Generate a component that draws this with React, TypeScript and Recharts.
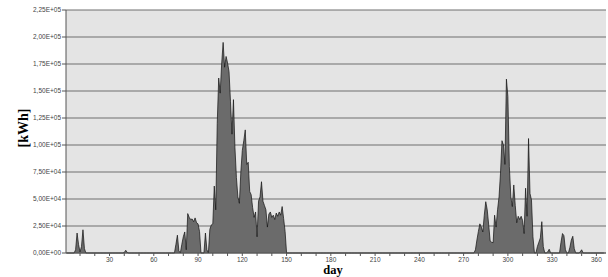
import React from 'react';
import { AreaChart, Area, XAxis, YAxis, CartesianGrid } from 'recharts';

// Daily energy values, in 1000 kWh, listed per run of non-zero days (start day + values)
const run1Start = 7;
const run1 = [3, 18.5, 8, 1, 6, 21.5, 4];
const run2Start = 40;
const run2 = [0.5, 2.5, 0.5];
const run3Start = 75;
const run3 = [
  8, 16.5, 2, 0, 8, 15, 19.5, 3, 36.5, 33, 31, 31.5, 29, 32.5, 28, 27, 20, 0, 0, 0,
  18.5, 3, 0, 22, 26, 27, 62, 40, 120, 162, 148, 175, 195, 172, 182, 176, 168, 140, 110, 142,
  98, 70, 52, 46, 75, 95, 104, 114, 82, 84, 57, 54, 42, 33, 38, 15, 48, 52, 66, 48,
  44, 40, 24, 36, 38, 33, 35, 31, 37, 34, 38, 35, 43, 32, 20,
];
const run4Start = 278;
const run4 = [
  3, 12, 20, 27, 24, 19.5, 35, 47.5, 40, 26, 11, 10, 9.5, 35, 24, 40, 52, 74, 104, 100,
  82, 161, 145, 80, 52, 43, 63, 44, 28, 34, 31, 34, 30, 18, 60, 34, 106, 55, 49, 15,
  0, 0, 6, 10, 14, 29, 6, 0, 0, 1, 3.5,
];
const run5Start = 336;
const run5 = [10, 18, 16, 3, 0, 0, 5, 12, 15.5, 4];
const run6Start = 349;
const run6 = [1, 3];

const dayCount = 365;
const yTicks = [0, 25000, 50000, 75000, 100000, 125000, 150000, 175000, 200000, 225000];
const xTicks = [10, 20, 30, 40, 50, 60, 70, 80, 90, 100, 110, 120, 130, 140, 150, 160, 170, 180, 190, 200, 210, 220, 230, 240, 250, 260, 270, 280, 290, 300, 310, 320, 330, 340, 350, 360];

const runs: [number, number[]][] = [
  [run1Start, run1],
  [run2Start, run2],
  [run3Start, run3],
  [run4Start, run4],
  [run5Start, run5],
  [run6Start, run6],
];

const kwh: number[] = new Array(dayCount).fill(0);
runs.forEach(([start, vals]) => {
  vals.forEach((v, i) => {
    kwh[start - 1 + i] = v * 1000;
  });
});
const data = kwh.map((v, i) => ({ day: i + 1, kwh: v }));

const fmtY = (v: number) => {
  if (v === 0) return '0,00E+00';
  const e = Math.floor(Math.log10(v));
  const m = v / Math.pow(10, e);
  return m.toFixed(2).replace('.', ',') + 'E+' + String(e).padStart(2, '0');
};
const fmtX = (v: number) => (v % 30 === 0 ? String(v) : '');

const tickStyle = { fontSize: 6.5, fill: '#444', fontFamily: 'Liberation Sans, Arial, sans-serif' };

export default function App() {
  return (
    <div style={{ position: 'absolute', left: 0, top: 0, width: 608, height: 277, background: '#fff', overflow: 'hidden' }}>
      <AreaChart width={608} height={277} data={data} margin={{ top: 10, right: 2, bottom: 0, left: 0 }}>
        <CartesianGrid fill="#e4e4e4" stroke="#6e6e6e" vertical={false} horizontalValues={yTicks} />
        <XAxis
          dataKey="day"
          type="number"
          domain={[0.5, 366.5]}
          ticks={xTicks}
          tickFormatter={fmtX}
          interval={0}
          height={24}
          tickSize={3}
          tickMargin={1}
          tick={tickStyle}
          stroke="#555"
          allowDataOverflow
        />
        <YAxis
          type="number"
          domain={[0, 225000]}
          ticks={yTicks}
          tickFormatter={fmtY}
          interval={0}
          width={66}
          tickSize={4}
          tickMargin={1}
          tick={tickStyle}
          stroke="#555"
        />
        <Area
          type="linear"
          dataKey="kwh"
          stroke="#111"
          strokeWidth={0.7}
          fill="#6b6b6b"
          fillOpacity={1}
          isAnimationActive={false}
          dot={false}
          activeDot={false}
        />
      </AreaChart>
      <div
        style={{
          position: 'absolute',
          left: 333,
          top: 264,
          transform: 'translateX(-50%)',
          fontFamily: 'Liberation Serif, serif',
          fontWeight: 'bold',
          fontSize: 12.5,
          lineHeight: '12px',
          whiteSpace: 'nowrap',
        }}
      >
        day
      </div>
      <div
        style={{
          position: 'absolute',
          left: 24,
          top: 128,
          transform: 'translate(-50%, -50%) rotate(-90deg)',
          fontFamily: 'Liberation Serif, serif',
          fontWeight: 'bold',
          fontSize: 14,
          lineHeight: '14px',
          whiteSpace: 'nowrap',
        }}
      >
        [kWh]
      </div>
    </div>
  );
}
